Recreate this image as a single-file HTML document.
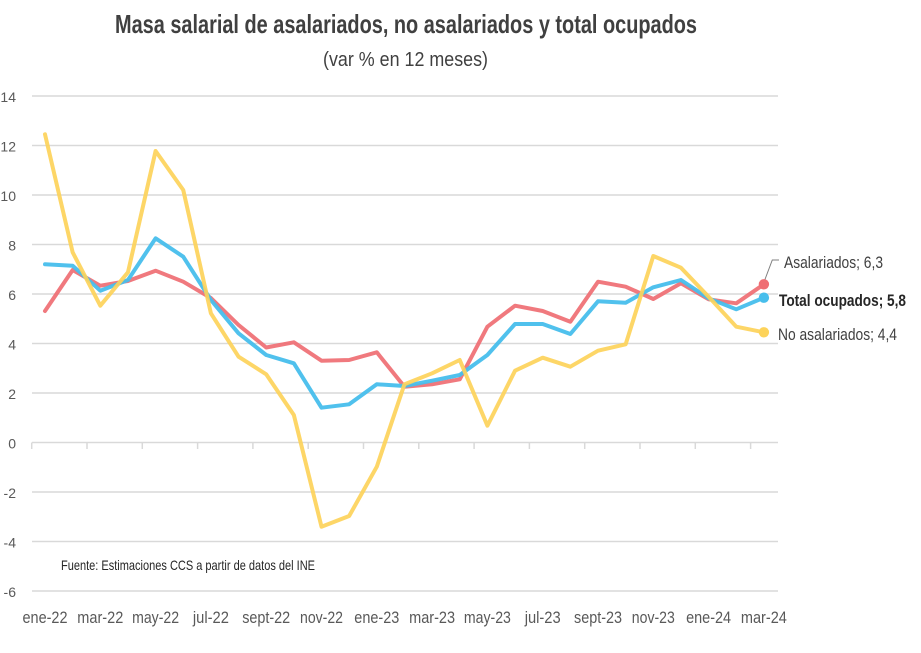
<!DOCTYPE html>
<html><head><meta charset="utf-8"><style>
html,body{margin:0;padding:0;background:#fff;}
svg{display:block;}
text{font-family:"Liberation Sans Narrow","Liberation Sans",sans-serif;}
</style></head><body>
<svg width="921" height="653" viewBox="0 0 921 653" xmlns="http://www.w3.org/2000/svg">
<rect width="921" height="653" fill="#fff"/>
<text x="406" y="33" text-anchor="middle" font-size="26" font-weight="bold" fill="#404040" textLength="582" lengthAdjust="spacingAndGlyphs">Masa salarial de asalariados, no asalariados y total ocupados</text>
<text x="405.5" y="66" text-anchor="middle" font-size="20" fill="#404040" textLength="165" lengthAdjust="spacingAndGlyphs">(var % en 12 meses)</text>
<g stroke="#D9D9D9" stroke-width="1.5">
<line x1="32" y1="96" x2="778" y2="96"/>
<line x1="32" y1="145.5" x2="778" y2="145.5"/>
<line x1="32" y1="195" x2="778" y2="195"/>
<line x1="32" y1="244.5" x2="778" y2="244.5"/>
<line x1="32" y1="294" x2="778" y2="294"/>
<line x1="32" y1="343.5" x2="778" y2="343.5"/>
<line x1="32" y1="393" x2="778" y2="393"/>
<line x1="32" y1="442.5" x2="778" y2="442.5"/>
<line x1="32" y1="492" x2="778" y2="492"/>
<line x1="32" y1="541.5" x2="778" y2="541.5"/>
<line x1="32" y1="591" x2="778" y2="591"/>
<line x1="31.7" y1="442.5" x2="31.7" y2="449"/>
<line x1="87" y1="442.5" x2="87" y2="449"/>
<line x1="142.3" y1="442.5" x2="142.3" y2="449"/>
<line x1="197.6" y1="442.5" x2="197.6" y2="449"/>
<line x1="252.9" y1="442.5" x2="252.9" y2="449"/>
<line x1="308.2" y1="442.5" x2="308.2" y2="449"/>
<line x1="363.5" y1="442.5" x2="363.5" y2="449"/>
<line x1="418.8" y1="442.5" x2="418.8" y2="449"/>
<line x1="474.1" y1="442.5" x2="474.1" y2="449"/>
<line x1="529.4" y1="442.5" x2="529.4" y2="449"/>
<line x1="584.7" y1="442.5" x2="584.7" y2="449"/>
<line x1="640" y1="442.5" x2="640" y2="449"/>
<line x1="695.3" y1="442.5" x2="695.3" y2="449"/>
<line x1="750.6" y1="442.5" x2="750.6" y2="449"/>
</g>
<g font-size="14" fill="#595959" text-anchor="end">
<text x="16" y="102">14</text>
<text x="16" y="151.5">12</text>
<text x="16" y="201">10</text>
<text x="16" y="250.5">8</text>
<text x="16" y="300">6</text>
<text x="16" y="349.5">4</text>
<text x="16" y="399">2</text>
<text x="16" y="448.5">0</text>
<text x="16" y="498">-2</text>
<text x="16" y="547.5">-4</text>
<text x="16" y="597">-6</text>
</g>
<g font-size="17" fill="#595959" text-anchor="middle">
<text x="45" y="623" textLength="45" lengthAdjust="spacingAndGlyphs">ene-22</text>
<text x="100.3" y="623" textLength="46" lengthAdjust="spacingAndGlyphs">mar-22</text>
<text x="155.6" y="623" textLength="47" lengthAdjust="spacingAndGlyphs">may-22</text>
<text x="210.9" y="623" textLength="36" lengthAdjust="spacingAndGlyphs">jul-22</text>
<text x="266.2" y="623" textLength="48" lengthAdjust="spacingAndGlyphs">sept-22</text>
<text x="321.5" y="623" textLength="43" lengthAdjust="spacingAndGlyphs">nov-22</text>
<text x="376.8" y="623" textLength="45" lengthAdjust="spacingAndGlyphs">ene-23</text>
<text x="432.1" y="623" textLength="46" lengthAdjust="spacingAndGlyphs">mar-23</text>
<text x="487.4" y="623" textLength="47" lengthAdjust="spacingAndGlyphs">may-23</text>
<text x="542.7" y="623" textLength="36" lengthAdjust="spacingAndGlyphs">jul-23</text>
<text x="598" y="623" textLength="48" lengthAdjust="spacingAndGlyphs">sept-23</text>
<text x="653.3" y="623" textLength="43" lengthAdjust="spacingAndGlyphs">nov-23</text>
<text x="708.6" y="623" textLength="45" lengthAdjust="spacingAndGlyphs">ene-24</text>
<text x="763.9" y="623" textLength="46" lengthAdjust="spacingAndGlyphs">mar-24</text>
</g>
<text x="61" y="570" font-size="14" fill="#262626" textLength="254" lengthAdjust="spacingAndGlyphs">Fuente: Estimaciones CCS a partir de datos del INE</text>
<g fill="none" stroke-width="4" stroke-linejoin="round" stroke-linecap="round">
<polyline stroke="#EF6E73" stroke-opacity="0.92" points="45,311 72.65,270 100.3,285.7 127.95,281 155.6,270.7 183.25,281.7 210.9,298 238.55,325 266.2,347.5 293.85,342.3 321.5,360.7 349.15,360 376.8,352.3 404.45,386.7 432.1,384.3 459.75,379.3 487.4,326.7 515.05,305.7 542.7,311 570.35,321.7 598,281.7 625.65,286.7 653.3,299 680.95,283.3 708.6,299.3 736.25,303.3 763.9,284.3"/>
<polyline stroke="#47BEEC" stroke-opacity="0.95" points="45,264.3 72.65,265.7 100.3,290.7 127.95,280 155.6,238.3 183.25,256.7 210.9,300 238.55,333.3 266.2,355 293.85,363.3 321.5,407.7 349.15,404.3 376.8,384.3 404.45,386 432.1,380.7 459.75,375 487.4,355 515.05,324 542.7,324 570.35,334 598,301.3 625.65,302.7 653.3,287.3 680.95,280 708.6,298.3 736.25,309.3 763.9,297.7"/>
<polyline stroke="#FDD35A" stroke-opacity="0.92" points="45,134.3 72.65,252.3 100.3,305.7 127.95,272.3 155.6,151 183.25,190 210.9,313.3 238.55,356.7 266.2,374.3 293.85,415 321.5,526.7 349.15,516 376.8,466.7 404.45,384.3 432.1,373.3 459.75,360 487.4,425.7 515.05,370.7 542.7,357.7 570.35,366.7 598,350.7 625.65,344.3 653.3,256 680.95,267.7 708.6,296.7 736.25,326.7 763.9,332.3"/>
</g>
<polyline fill="none" stroke="#7F7F7F" stroke-width="1" points="764,282 772.3,260 779,260"/>
<circle cx="763.9" cy="284.3" r="5.2" fill="#EF6E73"/>
<circle cx="763.9" cy="297.7" r="5.2" fill="#47BEEC"/>
<circle cx="763.9" cy="332.3" r="5.2" fill="#FDD35A"/>
<text x="784" y="268" font-size="17" fill="#404040" textLength="99" lengthAdjust="spacingAndGlyphs">Asalariados; 6,3</text>
<text x="779" y="306" font-size="17" font-weight="bold" fill="#262626" textLength="127" lengthAdjust="spacingAndGlyphs">Total ocupados; 5,8</text>
<text x="778" y="340" font-size="17" fill="#404040" textLength="119" lengthAdjust="spacingAndGlyphs">No asalariados; 4,4</text>
</svg>
</body></html>
